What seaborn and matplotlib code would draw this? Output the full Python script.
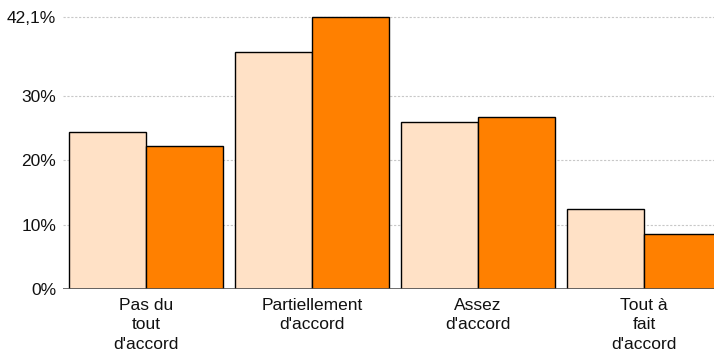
import matplotlib
matplotlib.use("Agg")
import matplotlib.pyplot as plt
import seaborn as sns
import pandas as pd

# Response categories and the two series (percentages)
categories = ["Pas du\ntout\nd'accord", "Partiellement\nd'accord", "Assez\nd'accord", "Tout à\nfait\nd'accord"]
series_names = ["A", "B"]
values_a = [24.3, 36.7, 25.9, 12.5]
values_b = [22.2, 42.1, 26.7, 8.5]
y_ticks = [0, 10, 20, 30, 42.1]
y_tick_labels = ["0%", "10%", "20%", "30%", "42,1%"]

df = pd.DataFrame({
    "cat": categories * 2,
    "serie": [series_names[0]] * 4 + [series_names[1]] * 4,
    "val": values_a + values_b,
})

sns.set_theme(style="white")
plt.rcParams["font.family"] = ["Liberation Sans", "DejaVu Sans"]

W, H = 714, 353
fig = plt.figure(figsize=(W / 100, H / 100), dpi=100)
left_px, base_px = 63, 289.3
px_per_unit = 6.46
y_max = 43.0
ax_w = 664
ax_h = y_max * px_per_unit
ax = fig.add_axes([left_px / W, (H - base_px) / H, ax_w / W, ax_h / H])

sns.barplot(data=df, x="cat", y="val", hue="serie", ax=ax,
            palette=["#FFE1C6", "#FF8000"], width=0.928, gap=0,
            edgecolor="black", linewidth=1, saturation=1, legend=False)

ax.set_xlim(-0.5, 3.5)
ax.set_ylim(0, y_max)
ax.set_yticks(y_ticks)
ax.set_yticklabels(y_tick_labels)
for t in y_ticks[1:]:
    ax.axhline(t, color="#c8c8c8", lw=0.8, ls=(0, (2, 1.5)), zorder=0)
ax.axhline(0, color="#555555", lw=1.2, zorder=3)

for s in ax.spines.values():
    s.set_visible(False)
ax.set_xlabel("")
ax.set_ylabel("")
ax.tick_params(axis="y", length=0, pad=5, labelsize=12.5, labelcolor="#111111")
ax.tick_params(axis="x", length=0, pad=6, labelsize=12.5, labelcolor="#111111")
for lbl in ax.get_xticklabels():
    lbl.set_linespacing(1.38)

fig.savefig("out.png", dpi=100)
